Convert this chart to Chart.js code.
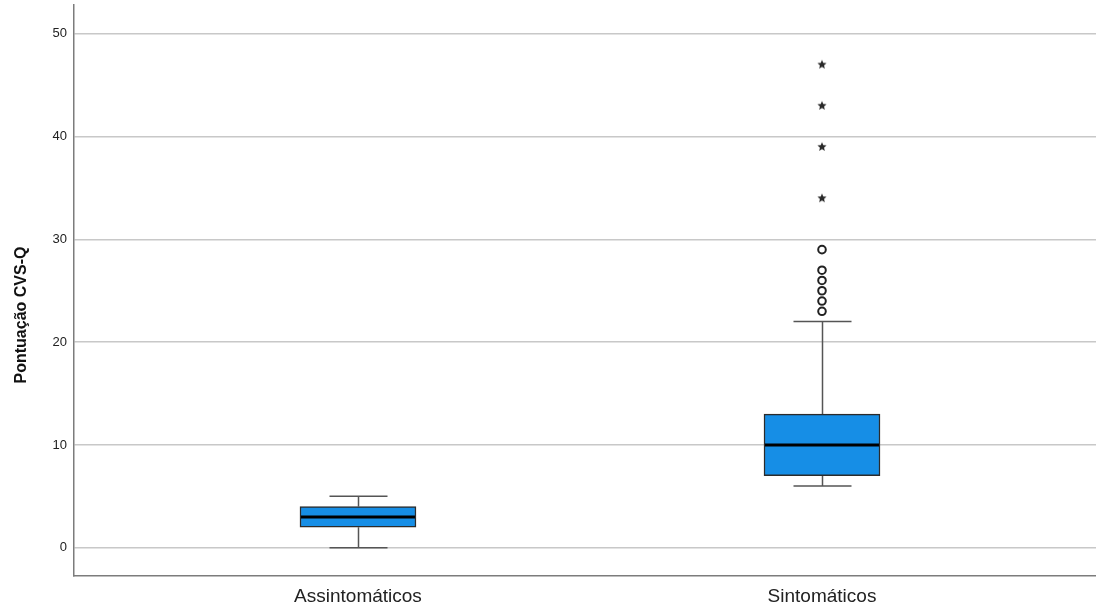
<!DOCTYPE html>
<html>
<head>
<meta charset="utf-8">
<script src="https://cdn.jsdelivr.net/npm/chart.js@4"></script>
<style>
    html, body { margin: 0; padding: 0; background: #fff; overflow: hidden; }
    canvas { display: block; }
</style>
</head>
<body>
<canvas id="chart-cvsq" width="1096" height="609"></canvas>
<script>
// ── Dados: resumo de cinco números por grupo ──
const categories   = ['Assintomáticos', 'Sintomáticos'];
const whiskerLow   = [0, 6];
const q1           = [2, 7];
const median       = [3, 10];
const q3           = [4, 13];
const whiskerHigh  = [5, 22];
const outliers     = [[], [23, 24, 25, 26, 27, 29]];   // círculos
const extremes     = [[], [34, 39, 43, 47]];           // estrelas
const yTicks       = [0, 10, 20, 30, 40, 50];

const BOX_W = 116;
const CAP_W = 58;

// estrela de cinco pontas para os valores extremos
function makeStar(r, color) {
    const c = document.createElement('canvas');
    const s = Math.ceil(r * 2 + 2);
    c.width = s; c.height = s;
    const g = c.getContext('2d');
    g.fillStyle = color;
    g.beginPath();
    for (let k = 0; k < 10; k++) {
        const rad = k % 2 === 0 ? r : r * 0.45;
        const a = -Math.PI / 2 + k * Math.PI / 5;
        const px = s / 2 + rad * Math.cos(a);
        const py = s / 2 + rad * Math.sin(a);
        k === 0 ? g.moveTo(px, py) : g.lineTo(px, py);
    }
    g.closePath();
    g.fill();
    return c;
}
const starImg = makeStar(4.8, '#2a2a2a');

const boxData = categories.map((c, i) => ({ x: i + 1, y: [q1[i], q3[i]] }));
const outlierData = [];
outliers.forEach((arr, i) => arr.forEach(v => outlierData.push({ x: i + 1, y: v })));
const extremeData = [];
extremes.forEach((arr, i) => arr.forEach(v => extremeData.push({ x: i + 1, y: v })));

// bigodes e mediana desenhados sobre as escalas do gráfico
const boxExtras = {
    id: 'boxExtras',
    beforeDatasetsDraw(chart) {
        const { ctx, scales: { x, y } } = chart;
        ctx.save();
        ctx.strokeStyle = '#555';
        ctx.lineWidth = 1.5;
        categories.forEach((c, i) => {
            const cx = Math.round(x.getPixelForValue(i + 1)) + 0.5;
            const lo = y.getPixelForValue(whiskerLow[i]);
            const hi = y.getPixelForValue(whiskerHigh[i]);
            ctx.beginPath();
            ctx.moveTo(cx, y.getPixelForValue(q1[i])); ctx.lineTo(cx, lo);
            ctx.moveTo(cx, y.getPixelForValue(q3[i])); ctx.lineTo(cx, hi);
            ctx.moveTo(cx - CAP_W / 2, lo); ctx.lineTo(cx + CAP_W / 2, lo);
            ctx.moveTo(cx - CAP_W / 2, hi); ctx.lineTo(cx + CAP_W / 2, hi);
            ctx.stroke();
        });
        ctx.restore();
    },
    afterDatasetsDraw(chart) {
        const { ctx, scales: { x, y } } = chart;
        ctx.save();
        ctx.strokeStyle = '#000';
        ctx.lineWidth = 3;
        categories.forEach((c, i) => {
            const cx = x.getPixelForValue(i + 1);
            const my = y.getPixelForValue(median[i]);
            ctx.beginPath();
            ctx.moveTo(cx - BOX_W / 2 + 1, my);
            ctx.lineTo(cx + BOX_W / 2 - 1, my);
            ctx.stroke();
        });
        // título do eixo Y
        ctx.translate(22, 315);
        ctx.rotate(-Math.PI / 2);
        ctx.fillStyle = '#111';
        ctx.font = 'bold 16px "Liberation Sans", Arial, sans-serif';
        ctx.textAlign = 'center';
        ctx.textBaseline = 'middle';
        ctx.fillText('Pontuação CVS-Q', 0, 0);
        ctx.restore();
    }
};

new Chart(document.getElementById('chart-cvsq'), {
    type: 'bar',
    data: {
        datasets: [
            {
                type: 'bar',
                data: boxData,
                backgroundColor: '#168ee6',
                borderColor: '#2b2b2b',
                borderWidth: 1.5,
                borderSkipped: false,
                barThickness: BOX_W,
                order: 2
            },
            {
                type: 'scatter',
                data: outlierData,
                pointStyle: 'circle',
                pointRadius: 3.8,
                pointBorderWidth: 2,
                pointBorderColor: '#222',
                pointBackgroundColor: 'rgba(255,255,255,0)',
                order: 1
            },
            {
                type: 'scatter',
                data: extremeData,
                pointStyle: starImg,
                pointRadius: 5,
                order: 1
            }
        ]
    },
    options: {
        responsive: false,
        animation: false,
        layout: { autoPadding: false, padding: { top: 5, right: 0, left: 0, bottom: 0 } },
        plugins: {
            legend: { display: false },
            tooltip: { enabled: false }
        },
        scales: {
            x: {
                type: 'linear',
                offset: false,
                min: 0.388,
                max: 2.5905,
                afterBuildTicks: s => { s.ticks = categories.map((c, i) => ({ value: i + 1 })); },
                afterFit: s => { s.height = 33; s.paddingLeft = 0; s.paddingRight = 0; },
                grid: { display: false, drawTicks: false, offset: false },
                border: { color: '#7c7c7c', width: 1.5 },
                ticks: {
                    padding: 9,
                    color: '#222',
                    font: { family: '"Liberation Sans", Arial, sans-serif', size: 19 },
                    callback: v => categories[v - 1] || ''
                }
            },
            y: {
                min: -2.75,
                max: 52.8,
                afterBuildTicks: s => { s.ticks = yTicks.map(v => ({ value: v })); },
                afterFit: s => { s.width = 74; s.paddingTop = 0; s.paddingBottom = 0; },
                grid: { color: '#c8c8c8', lineWidth: 1.5, drawTicks: false },
                border: { color: '#7c7c7c', width: 1.5 },
                ticks: {
                    padding: 7,
                    color: '#222',
                    font: { family: '"Liberation Sans", Arial, sans-serif', size: 13 }
                }
            }
        }
    },
    plugins: [boxExtras]
});
</script>
</body>
</html>
